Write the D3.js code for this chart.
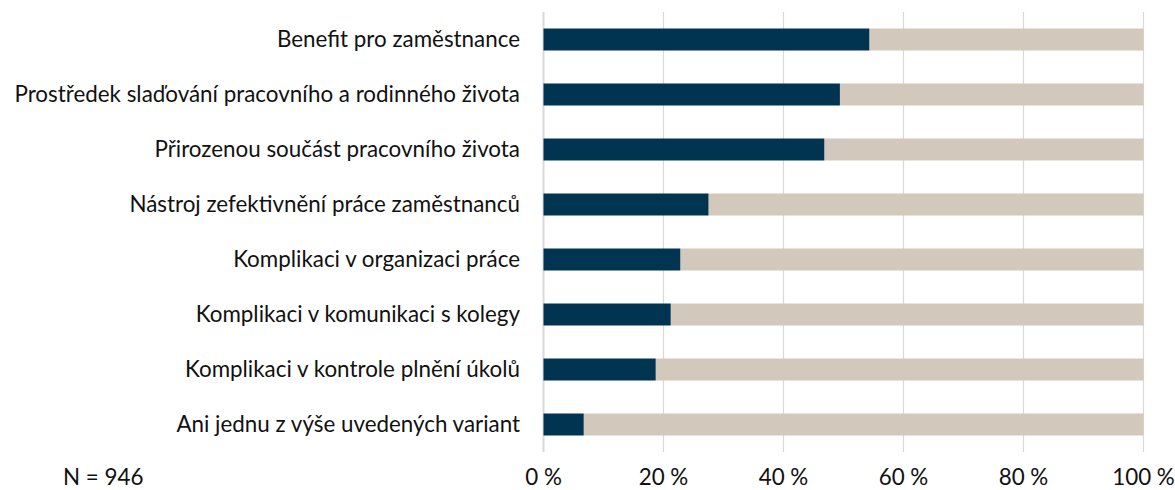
<!DOCTYPE html>
<html>
<head>
<meta charset="utf-8">
<script src="https://cdn.jsdelivr.net/npm/d3@7"></script>
<style>
  html, body { margin: 0; padding: 0; background: #fff; }
  svg { display: block; }
  text { font-family: Lato, "Open Sans", sans-serif; fill: #111; }
</style>
</head>
<body>
<svg id="chart" width="1175" height="490"></svg>
<script>
// Odpovědi respondentů (podíl v %), zbytek do 100 % je doplněk
const categories = [
  "Benefit pro zaměstnance",
  "Prostředek slaďování pracovního a rodinného života",
  "Přirozenou součást pracovního života",
  "Nástroj zefektivnění práce zaměstnanců",
  "Komplikaci v organizaci práce",
  "Komplikaci v komunikaci s kolegy",
  "Komplikaci v kontrole plnění úkolů",
  "Ani jednu z výše uvedených variant"
];
const shareValues = [54.3, 49.4, 46.8, 27.5, 22.8, 21.2, 18.7, 6.7];
const restValues = shareValues.map(v => 100 - v);
const tickValues = [0, 20, 40, 60, 80, 100];
const tickLabels = ["0 %", "20 %", "40 %", "60 %", "80 %", "100 %"];
const noteText = "N = 946";

const svg = d3.select("#chart");
const margin = { left: 543.5, right: 32, top: 12, bottom: 38 };
const W = 1175, H = 490;

const x = d3.scaleLinear().domain([0, 100]).range([margin.left, W - margin.right + 0.5]);
const y = d3.scaleBand().domain(categories).range([margin.top, H - margin.bottom])
  .paddingInner(0.6).paddingOuter(0.3);

// mřížka
svg.append("g").selectAll("line").data(tickValues).join("line")
  .attr("x1", d => x(d)).attr("x2", d => x(d))
  .attr("y1", margin.top).attr("y2", H - margin.bottom)
  .attr("stroke", "#d9d9d9")
  .attr("stroke-width", d => d === 0 ? 2 : 1.2);

const rows = categories.map((c, i) => ({ c, a: shareValues[i], b: restValues[i] }));

// doplněk (béžová)
svg.append("g").selectAll("rect").data(rows).join("rect")
  .attr("x", d => x(d.a)).attr("y", d => y(d.c))
  .attr("width", d => x(d.a + d.b) - x(d.a)).attr("height", y.bandwidth())
  .attr("fill", "#d2c9bc");

// hlavní hodnota (tmavě modrá)
svg.append("g").selectAll("rect").data(rows).join("rect")
  .attr("x", x(0)).attr("y", d => y(d.c))
  .attr("width", d => x(d.a) - x(0)).attr("height", y.bandwidth())
  .attr("fill", "#003450");

// popisky kategorií
const labels = svg.append("g").selectAll("text").data(categories).join("text")
  .attr("x", 520).attr("y", d => y(d) + y.bandwidth() / 2)
  .attr("text-anchor", "end").attr("dy", "0.35em")
  .attr("font-size", 18)
  .text(d => d);

// velikost písma podle nejdelšího popisku
let maxW = 0;
labels.each(function () { maxW = Math.max(maxW, this.getComputedTextLength()); });
const fs = 18 * 506 / maxW;
labels.attr("font-size", fs);

// popisky osy x
svg.append("g").selectAll("text").data(tickValues).join("text")
  .attr("x", d => x(d)).attr("y", 477).attr("dy", "0.35em")
  .attr("text-anchor", "middle")
  .attr("font-size", fs)
  .text((d, i) => tickLabels[i]);

svg.append("text").attr("x", 63).attr("y", 477).attr("dy", "0.35em")
  .attr("font-size", fs)
  .text(noteText);
</script>
</body>
</html>
